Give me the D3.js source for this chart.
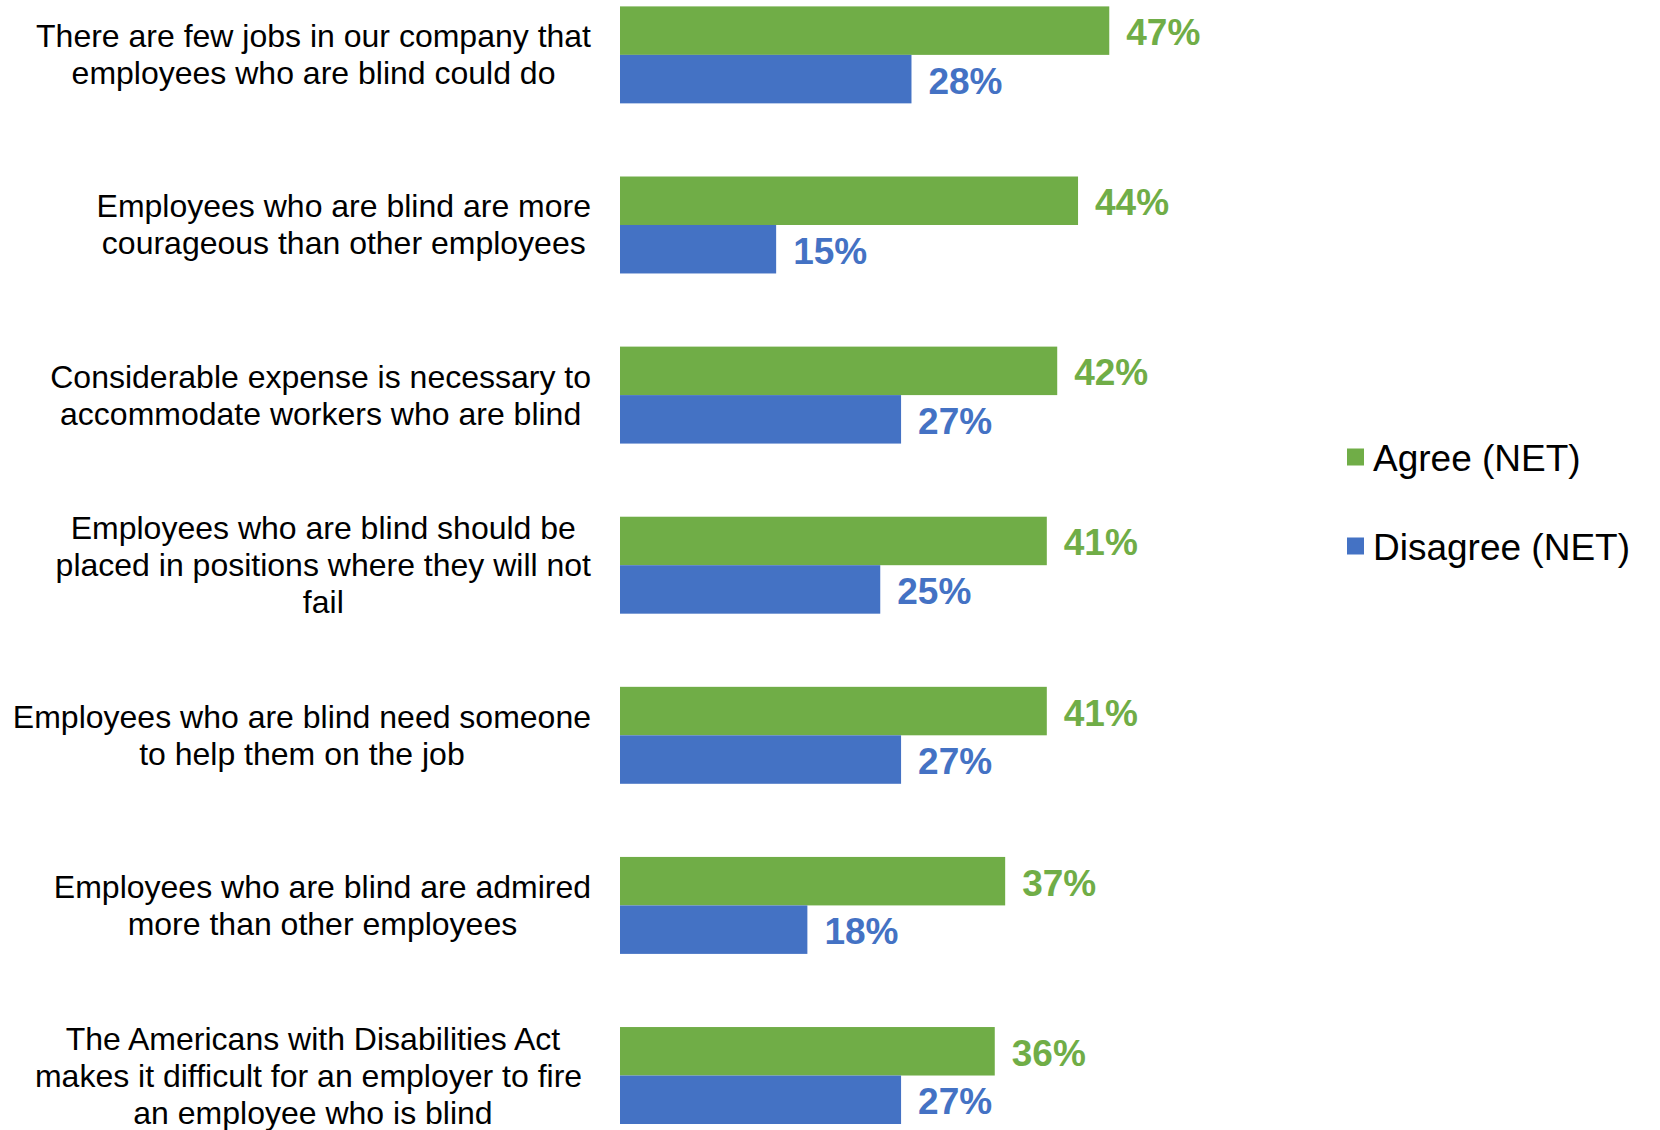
<!DOCTYPE html>
<html>
<head>
<meta charset="utf-8">
<script src="https://cdn.jsdelivr.net/npm/d3@7"></script>
<style>
  html, body { margin: 0; padding: 0; background: #ffffff; }
  svg { display: block; }
  text { font-family: "Liberation Sans", Arial, Helvetica, sans-serif; }
  text.cat { white-space: pre; }
</style>
</head>
<body>
<div id="chart"></div>
<script>
// Survey statements (each entry is the wrapped lines of one label)
const categories = [
  ["There are few jobs in our company that", "employees who are blind could do"],
  ["Employees who are blind are more", "courageous than other employees"],
  ["Considerable expense is necessary to", "accommodate workers who are blind"],
  ["Employees who are blind should be", "placed in positions where they will not", "fail"],
  ["Employees who are blind need someone", "to help them on the job"],
  ["Employees who are blind are admired", "more than other employees"],
  ["The Americans with Disabilities Act", "makes it difficult for an employer to fire ", "an employee who is blind"]
];
const agreeValues = [47, 44, 42, 41, 41, 37, 36];
const disagreeValues = [28, 15, 27, 25, 27, 18, 27];
const seriesNames = ["Agree (NET)", "Disagree (NET)"];
const seriesColors = ["#70AD47", "#4472C4"];

const width = 1660, height = 1130;
const svg = d3.select("#chart").append("svg")
  .attr("width", width).attr("height", height);

svg.append("rect").attr("width", width).attr("height", height).attr("fill", "#fff");

// Scales
const x = d3.scaleLinear().domain([0, 50]).range([620, 1140.5]);
const y = d3.scaleBand().domain(d3.range(categories.length))
  .range([6.4, 1124]).paddingInner(0.43).paddingOuter(0);
const ySeries = d3.scaleBand().domain([0, 1]).range([0, y.bandwidth()]);

const rows = categories.map((lines, i) => ({
  lines, i, values: [agreeValues[i], disagreeValues[i]]
}));

const group = svg.selectAll("g.row").data(rows).join("g")
  .attr("class", "row")
  .attr("transform", d => `translate(0,${y(d.i)})`);

// Bars
group.selectAll("rect.bar").data(d => d.values.map((v, s) => ({ v, s })))
  .join("rect")
  .attr("class", "bar")
  .attr("x", x(0))
  .attr("y", d => ySeries(d.s))
  .attr("width", d => x(d.v) - x(0))
  .attr("height", ySeries.bandwidth())
  .attr("fill", d => seriesColors[d.s]);

// Value labels
group.selectAll("text.val").data(d => d.values.map((v, s) => ({ v, s })))
  .join("text")
  .attr("class", "val")
  .attr("x", d => x(d.v) + 17)
  .attr("y", d => ySeries(d.s) + ySeries.bandwidth() / 2 + 2)
  .attr("dominant-baseline", "central")
  .attr("font-size", 37)
  .attr("font-weight", "bold")
  .attr("fill", d => seriesColors[d.s])
  .text(d => d.v + "%");

// Category labels: lines centred on each other, block right edge aligned
const labelRight = 591;
const lineGap = 37;
group.each(function (d) {
  const g = d3.select(this);
  const t = g.append("text")
    .attr("class", "cat")
    .attr("font-size", 32)
    .attr("fill", "#000")
    .attr("text-anchor", "middle")
    .attr("dominant-baseline", "central");
  const n = d.lines.length;
  const spans = t.selectAll("tspan").data(d.lines).join("tspan")
    .attr("y", (l, k) => y.bandwidth() / 2 + (k - (n - 1) / 2) * lineGap)
    .text(l => l);
  let maxW = 0;
  spans.each(function () { maxW = Math.max(maxW, this.getComputedTextLength()); });
  spans.attr("x", labelRight - maxW / 2);
});

// Legend
const legend = svg.append("g").selectAll("g").data(seriesNames).join("g")
  .attr("transform", (d, i) => `translate(1347,${457 + i * 89})`);
legend.append("rect")
  .attr("x", 0).attr("y", -8.5).attr("width", 17).attr("height", 17)
  .attr("fill", (d, i) => seriesColors[i]);
legend.append("text")
  .attr("x", 26).attr("y", 1)
  .attr("dominant-baseline", "central")
  .attr("font-size", 37)
  .attr("fill", "#000")
  .text(d => d);
</script>
</body>
</html>
